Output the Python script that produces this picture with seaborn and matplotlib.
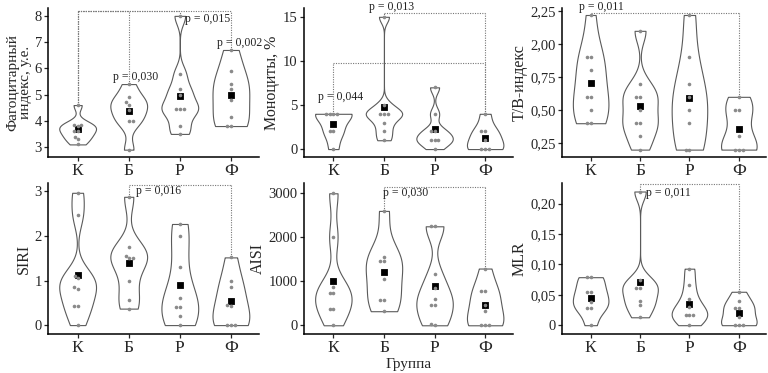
import numpy as np
import pandas as pd
import matplotlib
matplotlib.use("Agg")
import matplotlib.pyplot as plt
import seaborn as sns

groups = ["К", "Б", "Р", "Ф"]

# Фагоцитарный индекс
phago_K = [3.1, 3.3, 3.4, 3.6, 3.6, 3.8, 3.85, 3.85, 4.6]
phago_B = [2.9, 4.0, 4.0, 4.4, 4.6, 4.7, 4.9, 5.4]
phago_R = [3.5, 3.8, 4.45, 4.45, 4.45, 5.0, 5.2, 5.8, 8.0]
phago_F = [3.8, 3.8, 4.15, 4.8, 5.2, 5.4, 5.9, 6.7]
# Моноциты
mono_K = [0, 2, 2, 4, 4, 4, 4]
mono_B = [1, 2, 3, 4, 4, 4, 5, 15]
mono_R = [0, 1, 1, 1, 2, 2, 4, 7]
mono_F = [0, 0, 0, 1, 2, 2, 4]
# Т/В-индекс (axis units)
tb_K = [0.4, 0.4, 0.5, 0.6, 0.6, 0.8, 0.9, 0.9, 1.22]
tb_B = [0.2, 0.3, 0.4, 0.4, 0.5, 0.6, 0.6, 0.7, 1.1]
tb_R = [0.2, 0.2, 0.4, 0.5, 0.6, 0.7, 0.9, 1.22]
tb_F = [0.2, 0.2, 0.2, 0.3, 0.5, 0.5, 0.6]
# SIRI
siri_K = [0, 0.42, 0.42, 0.82, 0.85, 1.05, 1.1, 2.47, 2.97]
siri_B = [0.37, 0.57, 1.0, 1.5, 1.5, 1.55, 1.75, 2.88]
siri_R = [0, 0.2, 0.4, 0.4, 0.6, 1.3, 2.0, 2.27]
siri_F = [0, 0, 0, 0.42, 0.45, 0.85, 1.0, 1.52]
# AISI
aisi_K = [0, 380, 380, 740, 740, 880, 2000, 3000]
aisi_B = [320, 580, 580, 1060, 1470, 1470, 1560, 2600]
aisi_R = [0, 30, 450, 450, 600, 850, 1160, 2250, 2250]
aisi_F = [0, 0, 0, 320, 470, 790, 790, 1290]
# MLR
mlr_K = [0, 0.029, 0.029, 0.038, 0.055, 0.055, 0.079, 0.079]
mlr_B = [0.013, 0.033, 0.040, 0.061, 0.061, 0.075, 0.22]
mlr_R = [0, 0.016, 0.016, 0.016, 0.03, 0.043, 0.066, 0.093]
mlr_F = [0, 0, 0, 0.013, 0.028, 0.028, 0.039, 0.055]

ylabels = ["Фагоцитарный\nиндекс, у.е.", "Моноциты, %", "Т/В-индекс", "SIRI", "AISI", "MLR"]
yticks = [[3, 4, 5, 6, 7, 8], [0, 5, 10, 15], [0.25, 0.5, 0.75, 1.0, 1.25],
          [0, 1, 2, 3], [0, 1000, 2000, 3000], [0, 0.05, 0.10, 0.15, 0.20]]
yticklabels = [["3", "4", "5", "6", "7", "8"], ["0", "5", "10", "15"],
               ["0,25", "0,50", "0,75", "2,00", "2,25"], ["0", "1", "2", "3"],
               ["0", "1000", "2000", "3000"], ["0", "0,05", "0,10", "0,15", "0,20"]]
ylims = [(2.62, 8.3), (-0.9, 16.0), (0.144, 1.273), (-0.2, 3.19), (-198, 3234), (-0.0145, 0.234)]

# brackets: (from group, to group, level)
brackets = [
    [(0, 1, 8.17), (0, 2, 8.17), (0, 3, 8.17)],
    [(0, 3, 9.72), (1, 3, 15.38)],
    [(0, 3, 1.232)],
    [(1, 3, 3.14)],
    [(1, 3, 3152)],
    [(1, 3, 0.232)],
]
# p texts: (text, group anchor, x offset, y)
ptexts = [
    [("p = 0,030", 1, 0.14, 5.66), ("p = 0,015", 2, 0.55, 7.89), ("p = 0,002", 3, 0.17, 6.96)],
    [("p = 0,044", 0, 0.14, 5.95), ("p = 0,013", 1, 0.16, 16.1)],
    [("p = 0,011", 0, 0.22, 1.283)],
    [("p = 0,016", 1, 0.59, 3.0)],
    [("p = 0,030", 1, 0.43, 3000)],
    [("p = 0,011", 1, 0.57, 0.217)],
]

panels = [
    [phago_K, phago_B, phago_R, phago_F],
    [mono_K, mono_B, mono_R, mono_F],
    [tb_K, tb_B, tb_R, tb_F],
    [siri_K, siri_B, siri_R, siri_F],
    [aisi_K, aisi_B, aisi_R, aisi_F],
    [mlr_K, mlr_B, mlr_R, mlr_F],
]


def nrd0(kde):
    """Silverman's rule-of-thumb (R's bw.nrd0) as a scipy bandwidth factor."""
    d = np.asarray(kde.dataset).ravel()
    n = d.size
    sd = d.std(ddof=1)
    q75, q25 = np.percentile(d, [75, 25])
    lo = min(sd, (q75 - q25) / 1.34)
    if lo <= 0:
        lo = sd if sd > 0 else 1.0
    bw = 0.9 * lo * n ** -0.2
    return bw / sd if sd > 0 else 1.0


sns.set_theme(style="ticks")
plt.rcParams["font.family"] = ["Liberation Serif", "DejaVu Serif"]

fig = plt.figure(figsize=(7.68, 3.73), dpi=100)
W, H = 768, 373
rects = [
    (48, 8, 211, 149), (304, 8, 209, 149), (562, 8, 204, 149),
    (48, 183, 211, 151), (304, 183, 209, 151), (562, 183, 204, 151),
]

for k, (vals, rect) in enumerate(zip(panels, rects)):
    x0, y0, w, h = rect
    ax = fig.add_axes([x0 / W, 1 - (y0 + h) / H, w / W, h / H])
    df = pd.DataFrame({
        "g": np.concatenate([[g] * len(v) for g, v in zip(groups, vals)]),
        "v": np.concatenate([np.asarray(v, float) for v in vals]),
    })
    sns.violinplot(data=df, x="g", y="v", order=groups, ax=ax, cut=0, inner=None,
                   density_norm="width", width=0.72, bw_method=nrd0, bw_adjust=1.0,
                   color="white", linecolor="#5a5a5a", linewidth=0.8, saturation=1)
    sns.swarmplot(data=df, x="g", y="v", order=groups, ax=ax, color="#8a8a8a",
                  size=2.6, linewidth=0)
    sns.pointplot(data=df, x="g", y="v", order=groups, ax=ax, estimator="mean",
                  errorbar=None, color="black", marker="s", markersize=3.0,
                  linestyle="none")
    # brackets
    for (i, j, lvl) in brackets[k]:
        top_i = max(vals[i]); top_j = max(vals[j])
        kw = dict(color="#777777", lw=0.8, ls=(0, (1, 1.2)), clip_on=False, zorder=1)
        ax.plot([i, i], [top_i, lvl], **kw)
        ax.plot([j, j], [top_j, lvl], **kw)
        ax.plot([i, j], [lvl, lvl], **kw)
    for (txt, g, dx, yy) in ptexts[k]:
        ax.text(g + dx, yy, txt, ha="center", va="center", fontsize=8.5,
                color="#222222", clip_on=False, zorder=5)
    ax.set_xlim(-0.58, 3.55)
    ax.set_ylim(*ylims[k])
    ax.set_yticks(yticks[k])
    ax.set_yticklabels(yticklabels[k])
    ax.set_ylabel(ylabels[k], fontsize=11.5 if k else 11, labelpad=2, linespacing=0.9)
    ax.set_xlabel("Группа" if k == 4 else "", fontsize=11, labelpad=1)
    ax.tick_params(axis="y", labelsize=10.5, length=3, width=0.9, pad=1.5)
    ax.tick_params(axis="x", labelsize=12.5, length=3, width=0.9, pad=1.5)
    for s in ["top", "right"]:
        ax.spines[s].set_visible(False)
    for s in ["left", "bottom"]:
        ax.spines[s].set_linewidth(1.1)
        ax.spines[s].set_color("black")

fig.savefig("out.png", dpi=100)
